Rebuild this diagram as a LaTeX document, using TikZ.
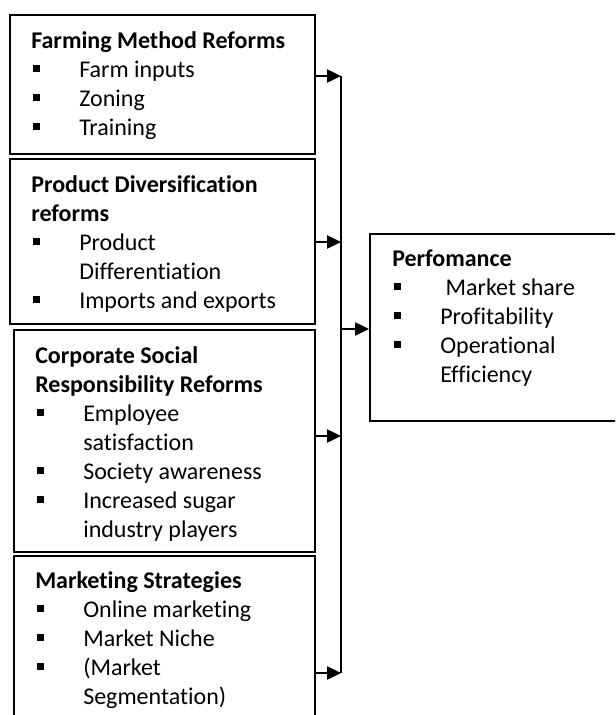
\documentclass[tikz,border=0pt]{standalone}
\usepackage{fontspec}
\setmainfont[Ligatures = NoCommon]{Carlito}
\usetikzlibrary{arrows.meta}

\newcommand{\bul}{\makebox[36pt][l]{\hspace{1.5pt}\rule[3.5pt]{5pt}{5.2pt}}}
\newcommand{\bulgap}{\makebox[36pt]{}}

\begin{document}
\begin{tikzpicture}[x = 0.75pt, y = -0.75pt]
        \def\px{0.75pt};
        \tikzset{
            box/.style = {draw, line width = 1.6pt, anchor = north west, inner sep = 0},
            txt/.style = {anchor = base west, inner sep = 0, font = \fontsize{18}{21.75}\selectfont},
            link/.style = {line width = 1pt},
            arr/.style = {->, >={Triangle[length = 10.5pt, width = 10pt]}, line width = 1pt}
        }
        \clip (0,0) rectangle (615,715);

        % the four reform boxes
        \node[box, minimum width = 305*\px, minimum height = 139*\px] (farm) at (9,14){};
        \node[box, minimum width = 305*\px, minimum height = 165*\px] (prod) at (9,158){};
        \node[box, minimum width = 301*\px, minimum height = 222*\px] (csr) at (13,329){};
        \node[box, minimum width = 301*\px, minimum height = 240*\px] (mkt) at (13,555){};

        % the performance box
        \node[box, minimum width = 260*\px, minimum height = 187*\px] (perf) at (369,233){};

        \node[txt] (farmtxt) at (31,48){
        \begin{tabular}[t]{@{}l@{}}
            \textbf{Farming Method Reforms} \\
            \bul Farm inputs \\
            \bul Zoning \\
            \bul Training
        \end{tabular}
        };

        \node[txt] (prodtxt) at (31,192){
        \begin{tabular}[t]{@{}l@{}}
            \textbf{Product Diversification} \\
            \textbf{reforms} \\
            \bul Product \\
            \bulgap Differentiation \\
            \bul Imports and exports
        \end{tabular}
        };

        \node[txt] (csrtxt) at (35,363){
        \begin{tabular}[t]{@{}l@{}}
            \textbf{Corporate Social} \\
            \textbf{Responsibility Reforms} \\
            \bul Employee \\
            \bulgap satisfaction \\
            \bul Society awareness \\
            \bul Increased sugar \\
            \bulgap industry players
        \end{tabular}
        };

        \node[txt] (mkttxt) at (35,588){
        \begin{tabular}[t]{@{}l@{}}
            \textbf{Marketing Strategies} \\
            \bul Online marketing \\
            \bul Market Niche \\
            \bul (Market \\
            \bulgap Segmentation)
        \end{tabular}
        };

        \node[txt] (perftxt) at (392,266){
        \begin{tabular}[t]{@{}l@{}}
            \textbf{Perfomance} \\
            \bul\ Market share \\
            \bul Profitability \\
            \bul Operational \\
            \bulgap Efficiency
        \end{tabular}
        };

        % joints on the collecting line
        \coordinate (j1) at (341,76);
        \coordinate (j2) at (341,242);
        \coordinate (j3) at (341,436);
        \coordinate (j4) at (341,673);
        \coordinate (jp) at (341,329);

        \draw[link] (j1) -- (j4);
        \draw[arr] (farm.east |- j1) -- (j1);
        \draw[arr] (prod.east |- j2) -- (j2);
        \draw[arr] (csr.east |- j3) -- (j3);
        \draw[arr] (mkt.east |- j4) -- (j4);
        \draw[arr] (jp) -- (perf.west |- jp);
    \end{tikzpicture}
\end{document}
